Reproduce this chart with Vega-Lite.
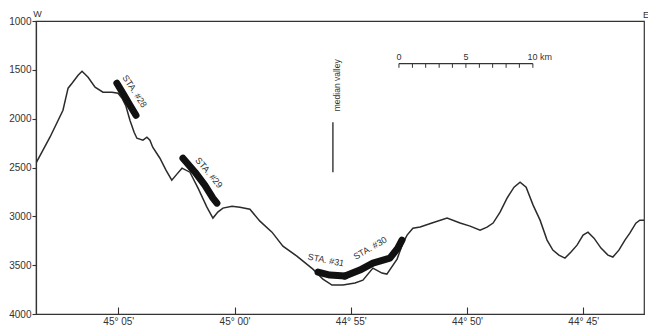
{
  "$schema": "https://vega.github.io/schema/vega-lite/v6.json",
  "width": 608,
  "height": 293,
  "autosize": "none",
  "padding": {"left": 36, "top": 21, "right": 4, "bottom": 14},
  "background": "white",
  "config": {
    "view": {"stroke": "#333", "strokeWidth": 1.2},
    "axis": {"grid": false, "labelFont": "Liberation Sans", "labelFontSize": 10, "labelColor": "#333", "tickColor": "#333", "domainColor": "#333", "domainWidth": 1.2, "tickWidth": 1.1, "title": null},
    "text": {"font": "Liberation Sans", "fontSize": 9, "fill": "#333"}
  },
  "datasets": {
    "profile": [
      {"lon": 68.54, "depth": 2456}, {"lon": 67.94, "depth": 2190}, {"lon": 67.38, "depth": 1914}, {"lon": 67.16, "depth": 1688},
      {"lon": 66.99, "depth": 1637}, {"lon": 66.73, "depth": 1555}, {"lon": 66.56, "depth": 1515}, {"lon": 66.30, "depth": 1576},
      {"lon": 66.00, "depth": 1678}, {"lon": 65.66, "depth": 1729}, {"lon": 65.27, "depth": 1729}, {"lon": 65.01, "depth": 1740},
      {"lon": 64.84, "depth": 1791}, {"lon": 64.67, "depth": 1873}, {"lon": 64.50, "depth": 2016}, {"lon": 64.32, "depth": 2139},
      {"lon": 64.20, "depth": 2200}, {"lon": 63.94, "depth": 2220}, {"lon": 63.77, "depth": 2190}, {"lon": 63.64, "depth": 2220},
      {"lon": 63.52, "depth": 2292}, {"lon": 63.21, "depth": 2405}, {"lon": 62.95, "depth": 2527}, {"lon": 62.70, "depth": 2630},
      {"lon": 62.48, "depth": 2568}, {"lon": 62.26, "depth": 2507}, {"lon": 61.92, "depth": 2548}, {"lon": 61.57, "depth": 2711},
      {"lon": 61.19, "depth": 2906}, {"lon": 60.93, "depth": 3018}, {"lon": 60.72, "depth": 2957}, {"lon": 60.50, "depth": 2916},
      {"lon": 60.11, "depth": 2896}, {"lon": 59.77, "depth": 2906}, {"lon": 59.34, "depth": 2927}, {"lon": 58.91, "depth": 3049},
      {"lon": 58.39, "depth": 3162}, {"lon": 57.92, "depth": 3305}, {"lon": 57.32, "depth": 3408}, {"lon": 56.63, "depth": 3541},
      {"lon": 56.20, "depth": 3643}, {"lon": 55.81, "depth": 3704}, {"lon": 55.34, "depth": 3704}, {"lon": 54.82, "depth": 3683},
      {"lon": 54.48, "depth": 3653}, {"lon": 54.05, "depth": 3530}, {"lon": 53.66, "depth": 3581}, {"lon": 53.45, "depth": 3591},
      {"lon": 53.01, "depth": 3438}, {"lon": 52.76, "depth": 3274}, {"lon": 52.58, "depth": 3192}, {"lon": 52.33, "depth": 3121},
      {"lon": 52.02, "depth": 3110}, {"lon": 51.51, "depth": 3069}, {"lon": 50.86, "depth": 3018}, {"lon": 50.30, "depth": 3069},
      {"lon": 49.87, "depth": 3100}, {"lon": 49.44, "depth": 3141}, {"lon": 49.14, "depth": 3110}, {"lon": 48.88, "depth": 3069},
      {"lon": 48.58, "depth": 2957}, {"lon": 48.28, "depth": 2814}, {"lon": 47.98, "depth": 2701}, {"lon": 47.72, "depth": 2650},
      {"lon": 47.46, "depth": 2701}, {"lon": 47.16, "depth": 2885}, {"lon": 46.86, "depth": 3039}, {"lon": 46.56, "depth": 3243},
      {"lon": 46.31, "depth": 3346}, {"lon": 46.05, "depth": 3397}, {"lon": 45.79, "depth": 3428}, {"lon": 45.53, "depth": 3366},
      {"lon": 45.27, "depth": 3295}, {"lon": 45.01, "depth": 3192}, {"lon": 44.80, "depth": 3162}, {"lon": 44.54, "depth": 3223},
      {"lon": 44.24, "depth": 3325}, {"lon": 43.94, "depth": 3397}, {"lon": 43.73, "depth": 3417}, {"lon": 43.47, "depth": 3346},
      {"lon": 43.21, "depth": 3243}, {"lon": 43.00, "depth": 3172}, {"lon": 42.74, "depth": 3070}, {"lon": 42.57, "depth": 3039},
      {"lon": 42.39, "depth": 3039}
    ],
    "stations": [
      {"station": "28", "lon": 65.06, "depth": 1637}, {"station": "28", "lon": 64.75, "depth": 1760}, {"station": "28", "lon": 64.50, "depth": 1862}, {"station": "28", "lon": 64.24, "depth": 1965},
      {"station": "29", "lon": 62.22, "depth": 2405}, {"station": "29", "lon": 61.70, "depth": 2548}, {"station": "29", "lon": 61.28, "depth": 2681}, {"station": "29", "lon": 60.93, "depth": 2814}, {"station": "29", "lon": 60.76, "depth": 2865},
      {"station": "31", "lon": 56.41, "depth": 3571}, {"station": "31", "lon": 55.90, "depth": 3601}, {"station": "31", "lon": 55.25, "depth": 3612},
      {"station": "30", "lon": 55.25, "depth": 3612}, {"station": "30", "lon": 54.61, "depth": 3550}, {"station": "30", "lon": 54.05, "depth": 3479}, {"station": "30", "lon": 53.32, "depth": 3428}, {"station": "30", "lon": 52.98, "depth": 3326}, {"station": "30", "lon": 52.80, "depth": 3244}
    ],
    "scaleTicks": [
      {"lon": 52.93, "top": 1436, "bottom": 1479}, {"lon": 52.35, "top": 1436, "bottom": 1479}, {"lon": 51.78, "top": 1436, "bottom": 1479},
      {"lon": 51.20, "top": 1436, "bottom": 1479}, {"lon": 50.63, "top": 1436, "bottom": 1479}, {"lon": 50.05, "top": 1436, "bottom": 1479},
      {"lon": 49.47, "top": 1436, "bottom": 1479}, {"lon": 48.90, "top": 1436, "bottom": 1479}, {"lon": 48.32, "top": 1436, "bottom": 1479},
      {"lon": 47.75, "top": 1436, "bottom": 1479}, {"lon": 47.17, "top": 1436, "bottom": 1479}
    ]
  },
  "encoding": {
    "x": {"field": "lon", "type": "quantitative", "scale": {"domain": [42.39, 68.54], "reverse": true, "nice": false, "zero": false}},
    "y": {"field": "depth", "type": "quantitative", "scale": {"domain": [1000, 4000], "reverse": true, "nice": false, "zero": false}}
  },
  "layer": [
    {
      "data": {"name": "profile"},
      "mark": {"type": "line", "stroke": "#2b2b2b", "strokeWidth": 1.5, "clip": true},
      "encoding": {
        "x": {"field": "lon", "type": "quantitative", "axis": {"values": [65, 60, 55, 50, 45], "tickSize": -7, "labelPadding": 9, "labelExpr": "(44 + floor(datum.value / 60)) + '° ' + (datum.value % 60 < 10 ? '0' : '') + (datum.value % 60) + \"'\""}},
        "y": {"field": "depth", "type": "quantitative", "axis": {"values": [1000, 1500, 2000, 2500, 3000, 3500, 4000], "format": "d", "tickSize": 4, "labelPadding": 1}}
      }
    },
    {
      "data": {"name": "stations"},
      "mark": {"type": "line", "stroke": "#111", "strokeWidth": 7, "strokeCap": "round", "strokeJoin": "round"},
      "encoding": {"detail": {"field": "station"}}
    },
    {
      "data": {"values": [{"lon": 52.93, "lon2": 47.17, "depth": 1436}]},
      "mark": {"type": "rule", "stroke": "#333", "strokeWidth": 1.1},
      "encoding": {"x2": {"field": "lon2"}}
    },
    {
      "data": {"name": "scaleTicks"},
      "mark": {"type": "rule", "stroke": "#333", "strokeWidth": 1},
      "encoding": {"y": {"field": "top", "type": "quantitative"}, "y2": {"field": "bottom"}}
    },
    {
      "data": {"values": [{"lon": 55.77, "top": 2036, "bottom": 2548}]},
      "mark": {"type": "rule", "stroke": "#222", "strokeWidth": 1.3},
      "encoding": {"y": {"field": "top", "type": "quantitative"}, "y2": {"field": "bottom"}}
    },
    {
      "data": {"values": [{"lon": 55.60, "depth": 1658, "label": "median valley"}]},
      "mark": {"type": "text", "angle": 270, "align": "center", "baseline": "middle", "fontSize": 8.5},
      "encoding": {"text": {"field": "label"}}
    },
    {
      "data": {"values": [{"lon": 52.93, "depth": 1400, "label": "0"}, {"lon": 50.05, "depth": 1400, "label": "5"}]},
      "mark": {"type": "text", "align": "center", "baseline": "alphabetic", "fontSize": 9},
      "encoding": {"text": {"field": "label"}}
    },
    {
      "data": {"values": [{"lon": 47.40, "depth": 1400, "label": "10 km"}]},
      "mark": {"type": "text", "align": "left", "baseline": "alphabetic", "fontSize": 9},
      "encoding": {"text": {"field": "label"}}
    },
    {
      "data": {"values": [{"lon": 68.48, "depth": 926, "label": "W"}, {"lon": 42.30, "depth": 942, "label": "E"}]},
      "mark": {"type": "text", "align": "center", "baseline": "middle", "fontSize": 9, "clip": false},
      "encoding": {"text": {"field": "label"}}
    },
    {
      "data": {"values": [{"lon": 64.30, "depth": 1719, "label": "STA. #28"}]},
      "mark": {"type": "text", "angle": 57, "align": "center", "baseline": "middle", "fontSize": 9},
      "encoding": {"text": {"field": "label"}}
    },
    {
      "data": {"values": [{"lon": 61.10, "depth": 2553, "label": "STA. #29"}]},
      "mark": {"type": "text", "angle": 50, "align": "center", "baseline": "middle", "fontSize": 9},
      "encoding": {"text": {"field": "label"}}
    },
    {
      "data": {"values": [{"lon": 56.07, "depth": 3448, "label": "STA. #31"}]},
      "mark": {"type": "text", "angle": 11, "align": "center", "baseline": "middle", "fontSize": 9},
      "encoding": {"text": {"field": "label"}}
    },
    {
      "data": {"values": [{"lon": 54.17, "depth": 3325, "label": "STA. #30"}]},
      "mark": {"type": "text", "angle": -30, "align": "center", "baseline": "middle", "fontSize": 9},
      "encoding": {"text": {"field": "label"}}
    }
  ]
}
